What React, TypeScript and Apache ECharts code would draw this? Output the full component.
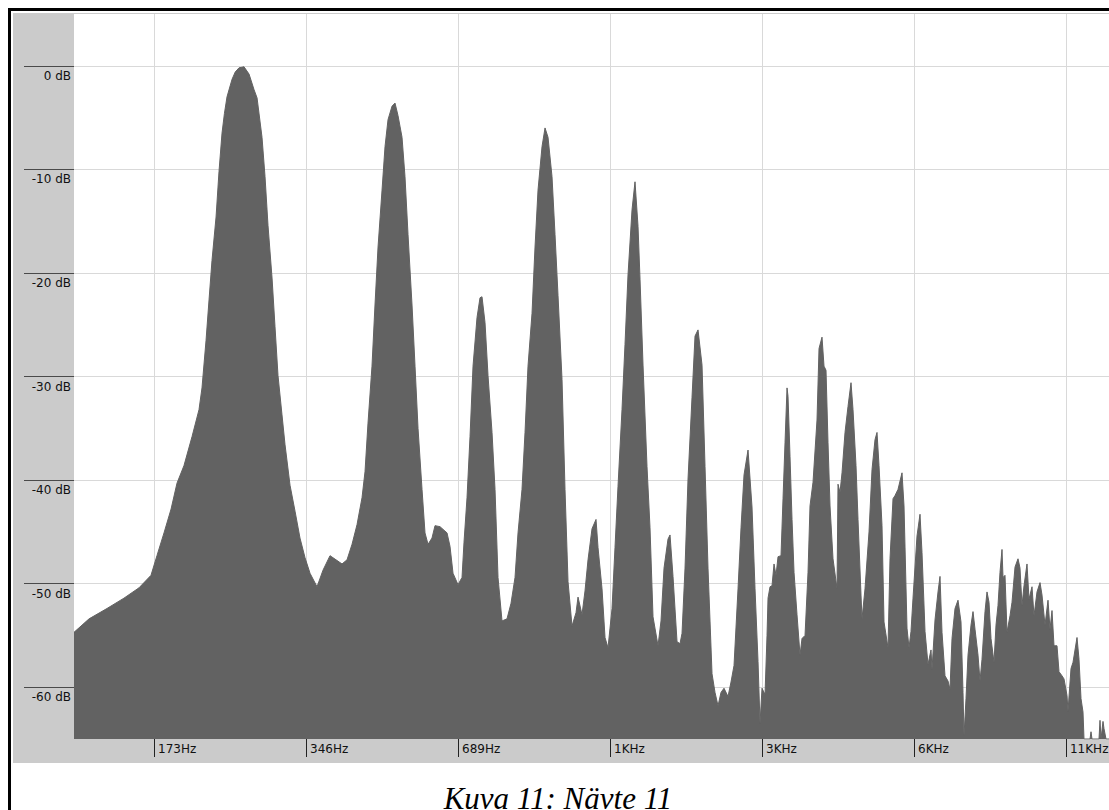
import React, { useEffect, useRef } from "react";
import * as echarts from "echarts";

// Spectrum: [frequency in Hz, level in dB]
const lowBand: [number, number][] = [
  [119.6, -54.7], [128.1, -53.4], [139.0, -52.4], [150.2, -51.4], [160.9, -50.4], [169.9, -49.2],
  [174.6, -47.3], [180.3, -45.1], [186.2, -42.8], [191.3, -40.3], [197.5, -38.6], [204.9, -35.8],
  [211.5, -33.2], [214.4, -31.1], [218.4, -26.5], [221.4, -22.6], [224.4, -18.8], [228.6, -14.6],
  [231.7, -10.2], [234.9, -6.5], [237.5, -4.6], [240.3, -3.0], [245.9, -1.3], [249.5, -0.6], [253.8, -0.2], [259.7, -0.1],
  [265.7, -0.8], [271.8, -2.3], [275.6, -3.1], [281.9, -6.9], [285.8, -10.7], [289.7, -15.4],
  [295.1, -20.5], [299.1, -25.2], [303.2, -29.9], [308.8, -33.7], [313.1, -36.6], [320.3, -40.5],
  [327.7, -43], [335.2, -45.6], [343.0, -47.5], [350.9, -49], [362.3, -50.3], [372.3, -48.7],
  [384.4, -47.3], [395.1, -47.7], [406.0, -48.1], [415.4, -47.7], [425.0, -46.2], [434.8, -44.3],
  [444.8, -41.7], [450.9, -39.2], [457.1, -34.5], [465.5, -29], [471.9, -23.1], [478.5, -17.5],
  [487.3, -12], [494.0, -7.8], [500.8, -5.2], [510.0, -3.9], [517.0, -3.6], [524.1, -4.8],
  [533.8, -6.9], [541.1, -10.7], [548.6, -16.3], [558.7, -23.1], [566.4, -29], [574.2, -35],
  [584.8, -40.9], [592.8, -45.1], [601.0, -46.2], [612.0, -45.6], [620.5, -44.4], [634.8, -44.5],
  [655.4, -45.1], [664.4, -46.4], [673.6, -49], [689.1, -50.1], [701.8, -49.4], [708.2, -46],
  [718.0, -41.7], [727.9, -35.8], [737.9, -29], [751.5, -24.3], [761.8, -22.4], [768.8, -22.3],
  [779.4, -24.8], [790.1, -29.9], [804.7, -35.4], [815.8, -40.9], [827.0, -49.4], [842.2, -53.6],
  [861.6, -53.4], [877.5, -51.9], [893.7, -49.4], [906.0, -45.1], [922.6, -40.9], [935.4, -35.4],
  [948.2, -29], [965.7, -23.9], [979.0, -17.5], [992.5, -12], [1010.8, -7.8], [1024.7, -6],
  [1038.8, -6.9], [1057.9, -10.7], [1072.5, -16.3], [1087.3, -22.2], [1107.3, -30.3], [1122.5, -40.9],
  [1138.0, -49.8], [1158.9, -54.1], [1180.3, -52.8], [1191.1, -51.3], [1213.0, -53], [1229.7, -50.7],
  [1246.7, -47.7], [1269.6, -44.7], [1293.0, -43.8],
];

const midBand: [number, number][] = [
  [1304.8, -46.5], [1328.9, -50.5], [1347.2, -55.2], [1365.7, -56.2], [1390.9, -52.4], [1410.0, -46.5],
  [1429.4, -40.6], [1455.7, -33.2], [1475.8, -26.9], [1496.1, -20.2], [1523.7, -13.9], [1544.6, -11.2],
  [1566.0, -15.5], [1580.3, -20.6], [1602.1, -28.9], [1631.5, -38.7], [1654.0, -44.6], [1676.8, -53.2],
  [1715.5, -56], [1739.1, -53.6], [1763.1, -48.5], [1795.5, -45.7], [1812.0, -45.3], [1836.9, -49.3],
  [1870.8, -55.6], [1896.5, -55.8], [1913.9, -54.8], [1940.3, -48.5], [1967.0, -39.9], [2003.2, -32],
  [2030.8, -26.1], [2058.8, -25.5], [2096.7, -28.9], [2125.6, -38.7], [2154.8, -48.5], [2194.5, -58.7],
  [2224.7, -60.5], [2255.4, -61.8], [2286.4, -60.5], [2317.9, -60.1], [2360.6, -60.9], [2393.1, -59.5],
  [2426.1, -57.9], [2470.8, -50.5], [2504.8, -44.6], [2539.3, -39.5], [2586.1, -37.1], [2633.6, -42.6],
  [2670.0, -50.5], [2706.7, -57.5], [2731.5, -63.5], [2756.5, -60.1], [2794.5, -60.7],
];

const upperBand: [number, number][] = [
  [2820.1, -55], [2833.0, -51.4], [2859.0, -50.3], [2885.2, -50.2], [2911.6, -48.1], [2938.3, -49.2],
  [2965.2, -47.4], [3006.0, -47.3], [3033.6, -41.8], [3061.4, -36.4], [3089.4, -31.1], [3103.5, -31.9],
  [3131.9, -37.7], [3160.7, -43.8], [3189.6, -48.9], [3233.5, -53], [3278.1, -56.9], [3308.1, -55.3],
  [3353.7, -55], [3399.9, -48.9], [3431.0, -42.5], [3478.3, -40.2], [3542.3, -34.2], [3574.8, -27.3],
  [3624.0, -26.2], [3657.2, -29], [3690.7, -29.4], [3724.5, -36.4], [3758.7, -42.5], [3810.4, -47.6],
  [3880.6, -50.5], [3898.3, -40.4], [3934.0, -41.2], [3970.1, -39.3], [4024.8, -35.4], [4080.2, -32.9],
  [4136.4, -30.6], [4174.3, -33.2], [4231.8, -38.6], [4270.6, -43.8], [4329.4, -51.1], [4349.2, -53.4],
  [4409.1, -50.5], [4490.3, -45], [4552.1, -39], [4614.8, -36.1], [4657.1, -35.4], [4699.8, -38.6],
  [4764.5, -44.4], [4808.2, -53.7], [4896.7, -56.2], [4941.5, -47.6], [5009.6, -41.8], [5055.5, -41.5],
  [5125.1, -40.9], [5219.5, -39.3], [5267.3, -42.5], [5339.9, -54.3], [5388.8, -56.2], [5438.2, -54.6],
  [5488.0, -51.4], [5589.0, -45.4], [5666.0, -43.3], [5717.9, -47], [5796.6, -54.6], [5876.5, -57.8],
  [5957.4, -56.4], [5984.7, -58.3], [6067.1, -53.5],
];

const highBand: [number, number][] = [
  [6150.7, -50.8], [6207.1, -49.3], [6263.9, -54.7], [6350.2, -58.9], [6437.7, -59.4], [6496.6, -60.2],
  [6556.1, -55.3], [6646.4, -52.4], [6738.0, -51.6], [6830.8, -53.7], [6893.4, -60.5], [6924.9, -64.7],
  [6988.4, -61.1], [7052.4, -56.9], [7149.5, -54], [7215.0, -52.7], [7281.1, -54.4], [7381.4, -56.9],
  [7449.1, -59.4], [7517.3, -57.3], [7620.8, -52.7], [7690.6, -50.8], [7761.1, -51.8], [7832.2, -55.3],
  [7940.1, -57.6], [8012.8, -54], [8086.2, -52.1], [8160.3, -48.9], [8235.0, -46.7], [8272.7, -49.4],
  [8348.5, -49.2], [8425.0, -54.7], [8541.0, -53.1], [8619.3, -51.8], [8738.0, -48.4], [8858.4, -47.6],
  [8939.6, -48.5], [9021.5, -52.1], [9104.1, -50.2], [9229.5, -48.1], [9314.1, -51.5], [9442.4, -50.3],
  [9528.9, -53.1], [9660.1, -50.8], [9793.2, -49.9], [9882.9, -51.1], [10019.0, -54], [10157.0, -51.6],
  [10250.1, -54.4], [10344.0, -52.6], [10438.8, -56], [10582.6, -56], [10679.5, -58.5], [10826.6, -58.9],
  [10925.8, -59.2], [11076.3, -60.8], [11126.9, -62.3], [11280.2, -58.2], [11383.5, -57.6], [11593.1, -55.2],
  [11699.3, -57.3], [11806.5, -61.1], [11914.7, -62.4], [11969.1, -65], [12301.1, -65], [12357.3, -64.3],
  [12413.0, -65], [12816.5, -65], [12875.0, -63.2], [12934.0, -65], [13052.4, -63.3], [13112.0, -64],
  [13232.0, -65], [14104.4, -65],
];

const xTickHz = [172.27, 344.53, 689.06, 1378.13, 2756.25, 5512.5, 11025];
const xTickLabels = ["173Hz", "346Hz", "689Hz", "1KHz", "3KHz", "6KHz", "11KHz"];
const yTickDb = [0, -10, -20, -30, -40, -50, -60];
const yTickLabels = ["0 dB", "-10 dB", "-20 dB", "-30 dB", "-40 dB", "-50 dB", "-60 dB"];
const xRangeHz = [119.6, 14104.4];
const yRangeDb = [-65, 5];
const caption = "Kuva 11: Nävte 11";

function nearestIndex(list: number[], v: number, logScale: boolean) {
  let best = 0;
  let bd = Infinity;
  list.forEach((t, i) => {
    const d = logScale ? Math.abs(Math.log(v / t)) : Math.abs(v - t);
    if (d < bd) {
      bd = d;
      best = i;
    }
  });
  return best;
}

export default function App() {
  const ref = useRef<HTMLDivElement>(null);
  useEffect(() => {
    if (!ref.current) return;
    const chart = echarts.init(ref.current, undefined, { renderer: "svg" });
    const data = [...lowBand, ...midBand, ...upperBand, ...highBand];
    chart.setOption({
      animation: false,
      backgroundColor: "#ffffff",
      graphic: [
        { type: "rect", z: -10, silent: true, shape: { x: 13, y: 13, width: 1120, height: 750 }, style: { fill: "#cbcbcb" } },
        { type: "rect", z: 100, silent: true, shape: { x: 8, y: 8, width: 3, height: 802 }, style: { fill: "#000" } },
        { type: "rect", z: 100, silent: true, shape: { x: 8, y: 8, width: 1130, height: 3 }, style: { fill: "#000" } },
        {
          type: "text", z: 100, silent: true, x: 558, y: 798,
          style: {
            text: caption, fill: "#000", fontStyle: "italic", fontSize: 31,
            fontFamily: "Liberation Serif", align: "center", verticalAlign: "middle",
          },
        },
      ],
      grid: { left: 74, top: 14, width: 1046, height: 725, show: true, backgroundColor: "#ffffff", borderWidth: 0 },
      xAxis: {
        type: "log",
        logBase: 2,
        min: xRangeHz[0],
        max: xRangeHz[1],
        axisLine: { show: false, onZero: false },
        axisTick: { show: true, length: 18, customValues: xTickHz, lineStyle: { color: "#222", width: 1 } },
        axisLabel: {
          customValues: xTickHz,
          formatter: (v: number) => xTickLabels[nearestIndex(xTickHz, v, true)],
          align: "left", margin: 4, padding: [0, 0, 0, 4],
          fontSize: 12, fontFamily: "DejaVu Sans", color: "#111",
        },
        splitLine: { show: true, lineStyle: { color: "#d9d9d9", width: 1 } },
        minorTick: { show: false },
        minorSplitLine: { show: false },
      },
      yAxis: {
        type: "value",
        min: yRangeDb[0],
        max: yRangeDb[1],
        axisLine: { show: false, onZero: false },
        axisTick: { show: true, length: 50, customValues: yTickDb, lineStyle: { color: "#4a4a4a", width: 1 } },
        axisLabel: {
          customValues: yTickDb,
          formatter: (v: number) => yTickLabels[nearestIndex(yTickDb, v, false)],
          align: "right", verticalAlign: "top", margin: 3, padding: [4, 0, 0, 0],
          fontSize: 12, fontFamily: "DejaVu Sans", color: "#111",
        },
        splitLine: { show: true, lineStyle: { color: "#d9d9d9", width: 1 } },
      },
      series: [
        {
          type: "line",
          data,
          symbol: "none",
          showSymbol: false,
          silent: true,
          clip: true,
          smooth: false,
          lineStyle: { color: "#626262", width: 1 },
          areaStyle: { color: "#626262", opacity: 1, origin: "start" },
        },
      ],
    });
    return () => chart.dispose();
  }, []);
  return (
    <div style={{ position: "fixed", left: 0, top: 0, width: 1109, height: 810, overflow: "hidden", background: "#fff" }}>
      <div ref={ref} style={{ width: 1130, height: 810 }} />
    </div>
  );
}
